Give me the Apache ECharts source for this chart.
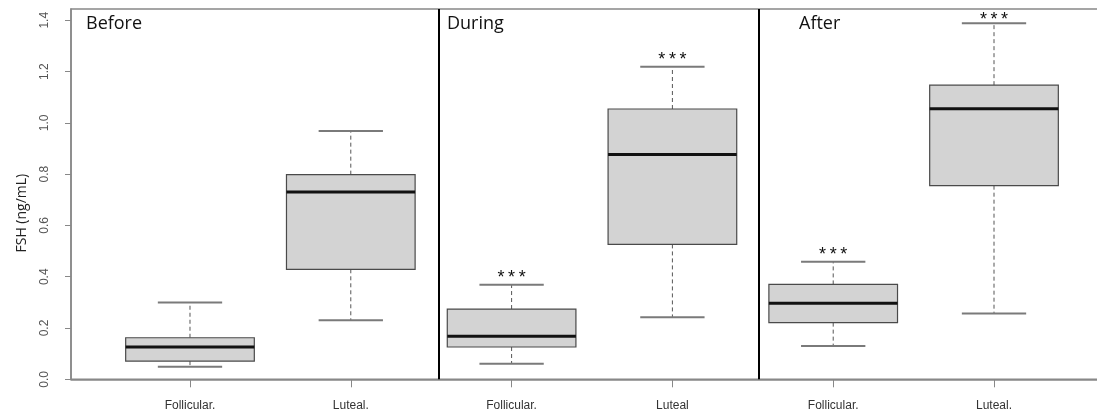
<!DOCTYPE html>
<html>
<head>
<meta charset="utf-8">
<script src="https://cdn.jsdelivr.net/npm/echarts@6/dist/echarts.min.js"></script>
<style>
html,body{margin:0;padding:0;background:#fff;}
#chart{width:1097px;height:417px;}
</style>
</head>
<body>
<div id="chart"></div>
<script>
// ---- data ----
const categories = ['Follicular.', 'Luteal.', 'Follicular.', 'Luteal', 'Follicular.', 'Luteal.'];
const phases = ['Before', 'During', 'After'];
const lowerWhisker = [0.049, 0.230, 0.061, 0.242, 0.130, 0.257];
const q1Values     = [0.071, 0.429, 0.126, 0.526, 0.221, 0.755];
const medianValues = [0.126, 0.730, 0.168, 0.877, 0.297, 1.055];
const q3Values     = [0.162, 0.798, 0.274, 1.054, 0.370, 1.147];
const upperWhisker = [0.299, 0.968, 0.369, 1.219, 0.458, 1.388];
const sigLabels    = ['', '', '***', '***', '***', '***'];
const yTickValues  = [0, 0.2, 0.4, 0.6, 0.8, 1.0, 1.2, 1.4];
const dividerPositions = [2.55, 4.54];

const xPositions = categories.map((c, i) => i + 1);
const boxData = categories.map((c, i) => [xPositions[i], lowerWhisker[i], q1Values[i], medianValues[i], q3Values[i], upperWhisker[i], sigLabels[i]]);

const BOX_WIDTH = 0.8;
const Y_MAX = 1.444;

function renderBox(params, api) {
  const x = api.value(0);
  const lo = api.coord([x, api.value(1)]);
  const q1 = api.coord([x, api.value(2)]);
  const med = api.coord([x, api.value(3)]);
  const q3 = api.coord([x, api.value(4)]);
  const hi = api.coord([x, api.value(5)]);
  const topY = api.coord([x, Y_MAX])[1];
  const sig = boxData[params.dataIndex][6];
  const halfW = api.size([BOX_WIDTH, 0])[0] / 2;
  const capHalf = halfW / 2;
  const cx = q1[0];
  const dashStyle = {stroke: '#555', lineWidth: 1, lineDash: [4, 3], fill: null};
  const capStyle = {stroke: '#7a7a7a', lineWidth: 2, fill: null};
  const children = [
    {type: 'line', shape: {x1: cx, y1: q3[1], x2: cx, y2: hi[1]}, style: dashStyle},
    {type: 'line', shape: {x1: cx, y1: q1[1], x2: cx, y2: lo[1]}, style: dashStyle},
    {type: 'line', shape: {x1: cx - capHalf, y1: hi[1], x2: cx + capHalf, y2: hi[1]}, style: capStyle},
    {type: 'line', shape: {x1: cx - capHalf, y1: lo[1], x2: cx + capHalf, y2: lo[1]}, style: capStyle},
    {type: 'rect', shape: {x: cx - halfW, y: q3[1], width: 2 * halfW, height: q1[1] - q3[1]},
      style: {fill: '#d3d3d3', stroke: '#4a4a4a', lineWidth: 1.2}},
    {type: 'line', shape: {x1: cx - halfW, y1: med[1], x2: cx + halfW, y2: med[1]},
      style: {stroke: '#111', lineWidth: 3}}
  ];
  if (sig) {
    children.push({type: 'text', style: {
      x: cx, y: Math.max(hi[1] - 7, topY + 11), text: sig.split('').join('\u2009'),
      align: 'center', verticalAlign: 'middle',
      font: '18px "Liberation Sans", Arial, sans-serif', fill: '#111'
    }});
  }
  return {type: 'group', children: children};
}

const chart = echarts.init(document.getElementById('chart'), null, {renderer: 'canvas'});
const titleLefts = [86, 447, 799];
chart.setOption({
  animation: false,
  backgroundColor: '#fff',
  title: phases.map((p, i) => ({
    text: p, left: titleLefts[i], top: 15, padding: 0,
    textStyle: {fontFamily: '"Open Sans", sans-serif', fontSize: 18, fontWeight: 'normal', color: '#111'}
  })),
  grid: {left: 71, width: 1042, top: 9, height: 370.3, show: true, borderColor: '#888', borderWidth: 1.5,
    outerBoundsMode: 'none', containLabel: false},
  xAxis: {
    type: 'value', min: 0.26, max: 6.74,
    axisLine: {show: true, lineStyle: {color: '#888', width: 1.5}},
    axisTick: {show: true, customValues: xPositions, length: 8, lineStyle: {color: '#888'}},
    axisLabel: {
      customValues: xPositions, margin: 20,
      formatter: v => categories[Math.round(v) - 1],
      fontFamily: '"Liberation Sans", Arial, sans-serif', fontSize: 12, color: '#333'
    },
    splitLine: {show: false}
  },
  yAxis: {
    type: 'value', min: 0, max: Y_MAX,
    name: 'FSH (ng/mL)', nameLocation: 'middle', nameGap: 42,
    nameTextStyle: {fontFamily: '"Open Sans", sans-serif', fontSize: 14, color: '#222', padding: [0, 38, 0, 0]},
    axisLine: {show: true, lineStyle: {color: '#888', width: 1.5}},
    axisTick: {show: true, customValues: yTickValues, length: 6, lineStyle: {color: '#888'}},
    axisLabel: {
      customValues: yTickValues, rotate: 90, margin: 20,
      formatter: v => v.toFixed(1),
      fontFamily: '"Liberation Sans", Arial, sans-serif', fontSize: 12, color: '#555'
    },
    splitLine: {show: false}
  },
  series: [{
    type: 'custom',
    renderItem: renderBox,
    data: boxData,
    clip: false,
    encode: {x: 0, y: [1, 2, 3, 4, 5]},
    markLine: {
      silent: true, symbol: 'none', label: {show: false},
      lineStyle: {color: '#000', width: 2, type: 'solid'},
      data: dividerPositions.map(v => ({xAxis: v}))
    }
  }]
});
</script>
</body>
</html>
